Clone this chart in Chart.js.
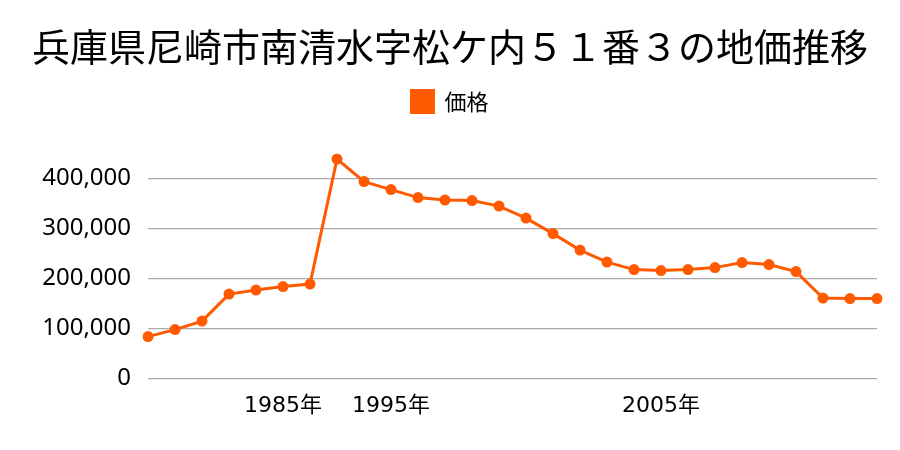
<!DOCTYPE html>
<html>
<head>
<meta charset="utf-8">
<script src="https://cdn.jsdelivr.net/npm/chart.js@4"></script>
<style>
  body { margin: 0; background: #fff; }
  #wrap { width: 900px; height: 450px; }
</style>
</head>
<body>
<div id="wrap"><canvas id="priceChart"></canvas></div>
<script>
// Years for each point (only some get a tick label)
const years = [1980, 1981, 1982, 1983, 1984, 1985, 1986, 1991, 1994,
  1995, 1996, 1997, 1998, 1999, 2000, 2001, 2002, 2003, 2004, 2005,
  2006, 2007, 2008, 2009, 2010, 2011, 2012, 2013];
const prices = [84000, 98000, 115000, 169000, 177000, 184000, 189000, 439000, 394000,
  378000, 362000, 357000, 356000, 345000, 321000, 290000, 257000, 233000, 218000, 216000,
  218000, 222000, 232000, 228000, 214000, 161000, 160000, 160000];
const tickYears = [1985, 1995, 2005];
const yTicks = [0, 100000, 200000, 300000, 400000];

const cjk = "'Noto Sans CJK JP', sans-serif";
const tickFont = "'DejaVu Sans', 'Noto Sans CJK JP', sans-serif";
const yFont = "'Noto Sans', sans-serif";
const orange = "#ff5a00";

// extra room under the legend
const legendGap = {
  id: "legendGap",
  beforeInit(chart) {
    const fit = chart.legend.fit;
    chart.legend.fit = function () {
      fit.bind(chart.legend)();
      this.height += 31;
    };
  },
};

const ctx = document.getElementById("priceChart").getContext("2d");

new Chart(ctx, {
  type: "line",
  data: {
    labels: years,
    datasets: [
      {
        label: "価格",
        data: prices,
        borderColor: orange,
        backgroundColor: orange,
        borderWidth: 3,
        pointRadius: 5.5,
        pointBackgroundColor: orange,
        pointBorderWidth: 0,
        tension: 0,
      },
    ],
  },
  plugins: [legendGap],
  options: {
    responsive: true,
    maintainAspectRatio: false,
    animation: false,
    layout: { padding: { left: 23, right: 23, top: 10, bottom: 25 } },
    plugins: {
      title: {
        display: true,
        text: "兵庫県尼崎市南清水字松ケ内５１番３の地価推移",
        color: "#000",
        font: { family: cjk, size: 38, weight: "normal" },
        padding: { top: 14, bottom: 11 },
      },
      legend: {
        labels: {
          color: "#000",
          boxWidth: 22,
          boxHeight: 22,
          padding: 10,
          font: { family: cjk, size: 22 },
        },
      },
      tooltip: { enabled: false },
    },
    scales: {
      x: {
        offset: false,
        grid: { display: false },
        border: { display: false },
        ticks: {
          autoSkip: false,
          maxRotation: 0,
          padding: 6,
          color: "#000",
          font: { family: tickFont, size: 22 },
          callback: function (value, index) {
            return tickYears.includes(years[index]) ? years[index] + "年" : "";
          },
        },
      },
      y: {
        min: 0,
        max: 450000,
        grid: { color: "#aaa", lineWidth: 1.2, drawTicks: false },
        border: { display: false },
        afterFit: function (axis) {
          axis.width = 125;
        },
        afterBuildTicks: function (axis) {
          axis.ticks = yTicks.map((v) => ({ value: v }));
        },
        ticks: {
          color: "#000",
          padding: 17,
          font: { family: yFont, size: 24 },
          callback: function (value) {
            return value.toLocaleString("en-US");
          },
        },
      },
    },
  },
});
</script>
</body>
</html>
